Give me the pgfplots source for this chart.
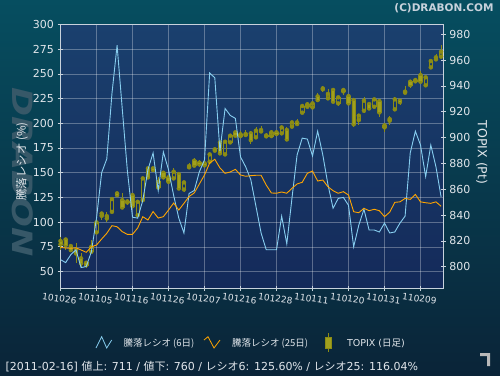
\documentclass[border=0pt]{standalone}
\usepackage{fontspec}
\setmainfont{DejaVu Sans}
\newfontfamily\cjk{Noto Sans CJK JP}
\usepackage{pgfplots}
\usepackage{pgfplotstable}
\pgfplotsset{compat=1.18}
\definecolor{outertop}{RGB}{6,78,96}
\definecolor{outerbot}{RGB}{10,36,56}
\definecolor{plottop}{RGB}{26,64,110}
\definecolor{plotbot}{RGB}{20,42,90}
\definecolor{skyl}{RGB}{135,206,240}
\definecolor{orng}{RGB}{255,165,0}
\definecolor{cedge}{RGB}{140,140,20}
\definecolor{cfill}{RGB}{160,160,30}
\definecolor{axcol}{RGB}{200,210,220}
\definecolor{txt}{RGB}{225,230,235}
\definecolor{wmark}{RGB}{55,88,104}

\pgfplotstableread{
i r6 r25
0 62 74.3
1 59 73.8
2 67 73.5
3 72 74.0
4 54 71.8
5 55 69.4
6 70 75.0
7 104 76.8
8 150 82.9
9 164 88.7
10 230 96.4
11 279 95.3
12 215 90.3
13 152 87.6
14 105 87.6
15 104 94.0
16 122 105.5
17 153 102.1
18 170 110.7
19 132 104.1
20 171 105.5
21 153 112.2
22 127 119.3
23 104 112.2
24 89 119.0
25 129 125.9
26 132 129.5
27 151 138.6
28 163 147.7
29 251 159.8
30 246 163.6
31 172 154.8
32 215 149.4
33 208 150.7
34 205 153.4
35 166 147.7
36 156 146.4
37 143 147.0
38 116 147.4
39 89 147.4
40 72 137.5
41 72 129.5
42 72 129.2
43 106 130.5
44 78 129.2
45 124 134.2
46 168 138.6
47 185 140.3
48 184 149.4
49 167 151.7
50 192 141.6
51 168 142.6
52 138 135.8
53 114 131.8
54 124 129.2
55 125 130.8
56 117 127.4
57 75 110.5
58 97 109.5
59 113 114.0
60 92 111.5
61 92 113.0
62 90 111.5
63 99 105.5
64 89 110.0
65 90 120.0
66 99 120.5
67 106 124.0
68 170 123.0
69 192 128.0
70 178 120.5
71 146 119.6
72 178 119.0
73 156 120.5
74 125.6 116.04
}\ratio

\pgfplotstableread{
i o h l c
0 819.9 823.2 812.9 817.3
1 821.1 821.9 812.9 816.8
2 816.0 816.8 812.4 812.9
3 812.9 818.1 802.6 810.3
4 806.5 810.3 800.0 802.6
5 803.1 803.9 798.7 801.3
6 811.6 820.6 811.6 815.5
7 826.6 838.7 825.8 834.3
8 839.4 841.2 836.1 841.2
9 837.4 842.5 834.8 839.2
10 842.5 852.9 842.5 852.4
11 856.8 858.0 854.2 855.5
12 851.6 856.8 845.1 845.9
13 850.6 851.6 847.7 849.8
14 855.5 856.8 846.4 846.9
15 839.9 851.6 838.7 850.3
16 851.6 869.7 850.3 868.4
17 876.2 877.0 868.4 869.2
18 876.2 877.5 873.6 874.9
19 861.4 869.7 859.8 865.8
20 872.8 874.4 867.6 869.2
21 869.2 871.0 865.3 865.8
22 868.4 876.2 867.6 873.6
23 871.8 872.3 859.3 860.6
24 859.8 865.8 858.0 865.3
25 878.0 880.1 875.7 877.0
26 882.1 883.9 877.5 878.3
27 880.6 882.6 877.5 879.3
28 880.1 880.6 878.0 878.5
29 881.3 887.8 880.6 887.0
30 889.9 892.2 888.8 890.9
31 896.3 896.8 887.3 887.8
32 887.0 897.6 886.5 896.8
33 896.3 902.5 895.5 901.5
34 904.1 905.4 900.2 901.5
35 901.2 905.1 900.2 902.5
36 902.8 905.9 900.7 902.0
37 903.3 905.4 895.0 898.1
38 900.2 907.9 899.4 905.4
39 905.9 909.0 903.3 904.8
40 901.7 903.3 899.4 901.0
41 901.2 905.9 900.7 904.1
42 904.1 905.9 902.0 902.8
43 903.3 908.5 902.8 907.9
44 905.9 907.9 897.6 898.6
45 908.5 912.8 907.9 911.8
46 911.8 914.1 909.5 910.5
47 919.3 924.5 918.3 924.5
48 923.9 927.8 922.6 925.8
49 923.4 926.5 922.6 926.5
50 931.9 934.8 928.6 929.1
51 938.1 940.0 935.6 937.4
52 930.4 937.4 929.6 933.8
53 936.9 936.9 927.0 927.8
54 926.5 931.7 924.7 931.2
55 936.9 938.6 933.2 935.8
56 932.2 933.0 926.0 926.5
57 929.1 929.1 908.5 910.3
58 913.6 917.5 909.7 917.0
59 920.8 931.2 918.8 928.6
60 926.0 927.0 921.4 922.6
61 923.9 930.1 923.4 929.6
62 928.3 929.1 915.7 919.5
63 907.9 911.5 904.1 909.5
64 914.4 916.7 909.7 913.1
65 921.9 931.2 921.4 929.6
66 928.6 929.1 925.2 927.5
67 934.8 940.0 934.3 935.6
68 943.3 943.8 938.1 940.7
69 944.6 945.4 942.0 943.6
70 948.5 951.6 942.5 943.3
71 940.5 947.2 940.0 946.7
72 954.4 960.1 953.6 959.3
73 960.6 964.7 959.6 962.2
74 962.7 971.7 962.2 966.5
}\topix

\pgfplotsset{
  chartpos/.style={at={(60pt,86.7pt)}, anchor=south west, scale only axis,
    width=383.3pt, height=263.8pt, xmin=-0.1, xmax=74.43},
}

\begin{document}
\begin{tikzpicture}[x=1pt,y=1pt]
\shade[top color=outertop, bottom color=outerbot] (0,0) rectangle (500,375);
\node[rotate=-90, text=wmark, font=\bfseries\itshape\fontsize{28}{28}\selectfont, xscale=1.25] at (23,203) {DRABON};

% base axis: background, grid, left scale
\begin{axis}[chartpos,
  ymin=33, ymax=300,
  xtick={0,7,...,70},
  xticklabels={101026,101105,101116,101126,101207,101216,101228,110111,110120,110131,110209},
  ytick={50,75,...,300},
  ytick pos=left, xtick pos=bottom,
  grid=major, major grid style={white, opacity=0.3, line width=0.6pt},
  axis background/.style={shade, top color=plottop, bottom color=plotbot},
  axis line style={axcol, line width=0.8pt},
  tick style={axcol, line width=0.8pt},
  tick align=center, major tick length=5pt,
  tick label style={color=txt, font=\fontsize{11}{11}\selectfont},
  /pgf/number format/assume math mode=true,
  x tick label style={rotate=-8, anchor=north, yshift=-1pt, font=\fontsize{9}{9}\selectfont},
]
\end{axis}

% TOPIX wicks + right scale
\begin{axis}[chartpos,
  ymin=783.3, ymax=987.6,
  axis y line*=right, axis x line=none,
  ytick={800,820,...,980},
  axis line style={axcol, line width=0.8pt},
  tick style={axcol, line width=0.8pt},
  tick align=center, major tick length=5pt,
  tick label style={color=txt, font=\fontsize{11}{11}\selectfont},
  /pgf/number format/assume math mode=true,
]
\addplot[cedge, only marks, mark=none,
  error bars/.cd, y dir=both, y explicit, error mark=none,
  error bar style={cedge, line width=0.8pt}]
  table[x=i, y expr={min(\thisrow{o},\thisrow{c})},
        y error plus expr=0,
        y error minus expr={min(\thisrow{o},\thisrow{c})-\thisrow{l}}] {\topix};
\addplot[cedge, only marks, mark=none,
  error bars/.cd, y dir=both, y explicit, error mark=none,
  error bar style={cedge, line width=0.8pt}]
  table[x=i, y expr={max(\thisrow{o},\thisrow{c})},
        y error plus expr={\thisrow{h}-max(\thisrow{o},\thisrow{c})},
        y error minus expr=0] {\topix};
\end{axis}

% TOPIX bodies
\begin{axis}[chartpos,
  ymin=783.3, ymax=987.6, hide axis,
  ybar stacked, bar width=3.4pt,
]
\addplot[draw=none, fill=none] table[x=i, y expr={min(\thisrow{o},\thisrow{c})}] {\topix};
\addplot[draw=cedge, fill=none, line width=0.8pt] table[x=i, y expr={\thisrow{c}>=\thisrow{o} ? \thisrow{c}-\thisrow{o} : 0}] {\topix};
\addplot[draw=cedge, fill=cfill, line width=0.8pt] table[x=i, y expr={\thisrow{c}<\thisrow{o} ? \thisrow{o}-\thisrow{c} : 0}] {\topix};
\end{axis}

% ratio lines
\begin{axis}[chartpos, ymin=33, ymax=300, hide axis]
\addplot[skyl, line width=0.9pt, mark=none] table[x=i, y=r6] {\ratio};
\addplot[orng, line width=0.9pt, mark=none] table[x=i, y=r25] {\ratio};
\end{axis}

% labels
\node[rotate=90, text=txt, font=\cjk\fontsize{11.5}{12}\selectfont] at (22,213.3) {騰落レシオ (\%)};
\node[rotate=-90, text=txt, font=\fontsize{12.5}{13}\selectfont] at (481.7,222.5) {TOPIX (Pt)};
\node[anchor=east, text=axcol, font=\bfseries\fontsize{10.5}{11}\selectfont] at (497,366.5) {(C)DRABON.COM};

% legend
\draw[skyl, line width=0.8pt] (96,27)--(101.7,38.3)--(106.7,27)--(111.7,35);
\node[anchor=west, text=txt, font=\cjk\fontsize{9.5}{10}\selectfont] at (120,32) {騰落レシオ (6日)};
\draw[orng, line width=0.8pt] (204,35)--(208,38.3)--(214,27)--(220,35);
\node[anchor=west, text=txt, font=\cjk\fontsize{9.5}{10}\selectfont] at (228.5,32) {騰落レシオ (25日)};
\draw[cedge, line width=0.8pt] (328.5,23)--(328.5,42);
\filldraw[fill=cfill, draw=cedge, line width=0.8pt] (325.5,27) rectangle (331.5,38);
\node[anchor=west, text=txt, font=\fontsize{9.5}{10}\selectfont] at (343.5,32) {TOPIX ({\cjk 日足})};

% status line
\node[anchor=west, text=txt, font=\fontsize{11}{11}\selectfont] at (2,8.3) {[2011-02-16] {\cjk 値上}: 711 / {\cjk 値下}: 760 / {\cjk レシオ}6: 125.60\% / {\cjk レシオ}25: 116.04\%};

% small corner glyph
\fill[gray!55] (480,22)--(490,22)--(490,9)--(487,9)--(487,19)--(480,19)--cycle;
\end{tikzpicture}
\end{document}
